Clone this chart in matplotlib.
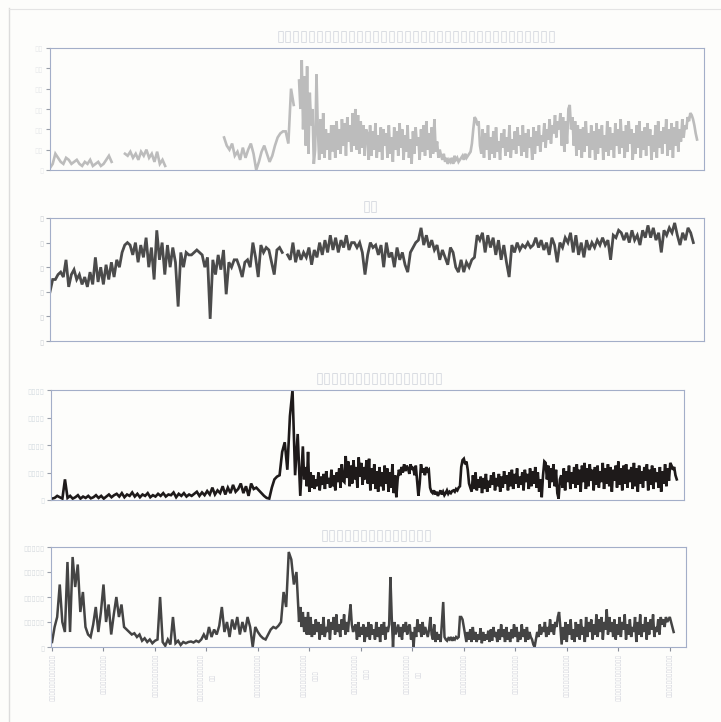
import numpy as np
import matplotlib
matplotlib.use("Agg")
import matplotlib.pyplot as plt
from matplotlib.lines import Line2D

nan = np.nan
B = "\u25af"

# ---------------- data ----------------
titles = [B * 35, B * 2, B * 16, B * 14]

# panel 1: early part (rows 0-460, every 5th row) and later dense part (rows 465-1208)
p1_early = [1,3,8,6,4,3,6,5,3,4,5,3,2,4,3,5,2,3,4,2,3,5,7,4,
            nan,nan,nan,nan,
            8,7,9,6,8,5,9,7,10,6,8,4,9,3,5,2,
            nan,nan,nan,nan,nan,nan,nan,nan,nan,nan,nan,nan,nan,nan,nan,nan,nan,nan,nan,nan,nan,
            16,12,10,13,7,9,5,11,6,10,13,8,0,4,9,12,8,4,7,12,16,18,19,19,13,
            40,32,nan]
p1_late = [44,30,54,20,46,12,51,8,38,22,30,3,10,47,20,
           5,25,8,28,6,20,10,18,5,22,9,
           22,6,24,10,20,8,25,12,23,7,26,14,22,9,28,12,30,10,27,8,24,11,22,7,20,
           18,5,22,7,19,10,23,6,17,9,21,5,20,12,18,6,22,8,16,4,21,10,19,7,23,11,20,5,17,9,
           22,6,15,3,19,8,21,12,16,5,20,9,22,7,24,10,18,6,21,8,25,9,14,6,
           10,7,5,8,4,6,3,5,4,6,3,7,5,6,4,5,6,7,5,8,6,7,8,9,
           13,20,26,25,22,24,12,
           8,20,6,18,10,22,5,16,8,19,6,21,9,14,5,18,11,20,7,16,9,22,6,15,10,19,8,21,12,17,
           7,22,9,18,6,20,11,16,5,21,8,19,12,22,9,17,14,23,11,20,15,25,13,22,18,27,16,24,20,28,
           12,26,9,24,13,
           30,32,20,26,12,24,7,22,10,20,6,21,9,24,12,18,6,22,10,19,5,23,8,20,11,22,5,17,9,24,
           7,21,10,18,6,23,12,20,8,25,11,19,6,22,9,24,13,20,5,18,8,22,11,24,6,19,10,21,7,23,
           12,20,5,17,9,22,6,24,11,19,8,21,13,25,7,20,10,23,6,21,12,24,9,20,14,25,16,22,20,26,
           24,28,27,25,22,18,15]

# panel 2: rows 0-1208, every 5th row
p2_vals = [2.0,2.5,2.5,2.7,2.8,2.6,3.3,2.2,2.7,2.9,2.5,2.7,2.3,2.6,2.2,2.8,2.3,3.4,2.4,3.0,
           2.3,3.1,2.5,3.2,2.6,3.3,3.0,3.6,3.9,4.0,3.9,3.5,4.0,3.2,3.9,3.4,4.2,3.0,3.8,2.5,
           4.5,3.3,4.0,2.7,3.9,3.0,3.8,3.2,1.4,3.6,3.0,3.6,3.5,3.5,3.6,3.7,3.6,3.5,3.0,3.4,
           0.9,3.3,2.7,3.5,2.9,3.7,1.9,3.2,3.0,3.3,3.3,3.0,2.6,3.2,3.3,3.0,4.0,3.4,2.6,3.9,
           3.6,3.8,3.7,3.2,2.7,3.7,3.8,3.6,nan,3.5,3.3,4.0,3.2,3.7,3.3,3.6,3.4,3.8,3.1,3.7,
           3.4,4.0,3.5,4.1,3.6,4.3,3.7,4.2,3.6,4.1,3.8,4.3,3.7,4.0,4.0,3.8,4.0,3.6,2.7,3.5,
           4.0,3.8,3.9,3.5,3.9,3.0,4.0,3.4,3.6,3.0,3.8,3.3,3.6,3.1,2.8,3.6,3.8,4.0,4.1,4.6,
           3.9,4.3,3.8,4.1,3.7,3.9,3.3,3.7,3.4,3.1,3.8,3.6,3.0,2.8,3.3,2.8,3.2,3.0,3.3,3.4,
           4.3,4.1,4.4,3.6,4.3,3.8,4.2,3.5,4.1,3.3,3.9,3.2,2.6,3.9,3.6,4.0,3.7,3.9,3.8,4.0,
           3.8,3.9,4.2,3.8,4.1,3.7,4.0,3.5,4.2,3.9,3.2,4.0,3.8,4.2,4.0,4.4,3.6,4.3,3.5,4.0,
           3.4,4.1,3.7,4.0,3.8,4.1,3.9,4.2,3.9,4.1,3.3,4.3,4.2,4.5,4.4,4.1,4.4,4.0,4.5,4.1,
           4.3,3.9,4.5,4.2,4.7,4.2,4.6,4.1,4.4,3.6,4.5,4.3,4.6,4.4,4.8,4.3,3.9,4.4,4.1,4.6,
           4.4,4.0]

# panel 3: early part (rows 0-480, every 5th row) and later dense part (rows 485-1208)
p3_early = [100,150,300,200,100,1500,150,
            300,100,200,350,100,250,150,300,120,200,350,150,300,100,250,400,200,350,
            450,250,500,200,400,300,550,250,450,200,400,300,500,200,350,250,450,300,500,250,
            400,350,550,200,450,300,500,250,400,300,450,
            600,300,550,350,650,400,900,400,700,500,1000,
            400,900,500,1100,600,800,1200,500,1000,300,1200,800,
            900,700,500,300,150,100,
            900,1500,1700,1800,
            3500,4200,2200,6100,8000,1800,4800,300]
p3_late = [3900,1500,2400,1000,3500,600,2000,900,
           1800,800,1500,1000,2000,700,1700,1100,1900,800,2100,1200,1600,900,2200,1000,1800,700,
           2000,1300,2300,900,2600,1400,
           1300,3200,1600,2800,1000,2500,1200,2900,1500,2400,900,3100,1700,2700,1100,2400,1500,
           2900,1200,3000,
           700,2300,1200,2600,800,2100,600,2400,1000,2000,700,2500,1200,2300,600,2000,900,2600,
           500,1800,200,
           1500,2200,1800,2400,2000,2600,2100,2500,2300,1900,2600,2200,2400,1800,2500,1400,300,
           1200,2600,2000,2300,1800,2400,2100,2200,
           900,600,500,700,400,600,300,500,700,400,600,350,500,700,450,600,500,650,700,600,800,
           700,900,1000,
           2400,2900,3000,2600,2800,2200,1200,900,
           600,1800,800,2000,700,1500,900,1700,500,1600,800,1900,600,1400,900,1800,1100,2000,700,
           1600,1000,1900,600,1700,900,2100,1200,1800,700,2000,1000,2200,800,1900,1200,2300,900,
           1700,1100,2000,700,2200,1300,1900,800,2300,1000,2100,1200,2400,900,2000,600,1500,200,
           1800,2800,
           2700,1500,2500,900,2300,1300,2600,1000,2200,500,100,1500,1800,900,2300,700,2100,1300,
           2500,800,2000,1200,2400,900,2600,1100,2200,600,2500,1300,2700,800,2300,1000,2600,1400,
           2200,700,2400,1100,2500,900,2100,1300,2700,800,2300,1200,2600,1000,2400,600,2200,1400,
           2500,900,2800,1100,2300,700,2500,1200,2600,900,2200,1300,2400,800,2700,1000,2300,600,
           2500,1200,2100,900,2400,1400,2600,700,2200,1100,2500,800,2300,1300,2000,900,2400,600,
           2100,1200,2600,1000,2300,1400,2700,2500,2200,2400,1800,1500]

# panel 4: early part (rows 0-475, every 5th row) and later dense part (rows 480-1208)
p4_early = [2000,8000,12000,25000,10000,6000,34000,6000,36000,24000,33000,14000,22000,8000,5000,4000,
            9000,16000,6000,14000,25000,10000,17000,5000,13000,20000,12000,17000,
            8000,7000,6000,5000,5500,4000,5000,
            2500,3500,2000,3000,1500,2500,3000,
            20000,
            2000,500,3000,1000,12000,1500,2500,800,2000,
            1500,2000,2200,1800,2500,2000,3000,
            5000,3000,8000,4000,7000,5000,8500,16000,
            6000,10000,4000,11000,7000,12000,5000,10000,6000,12000,8000,0,
            8000,6000,4500,3500,3000,5000,7000,8000,7500,8500,
            10000,22000,16000,38000,35000,25000,30000]
p4_late = [10000,16000,8000,14000,6000,12000,5000,14000,5000,
           12000,4000,9000,5000,11000,6000,10000,3000,9000,5000,12000,4000,8000,6000,11000,3000,
           10000,7000,12000,5000,13000,6000,9000,4000,11000,7000,13000,5000,10000,6000,12000,17000,
           9000,6000,8000,
           9000,3000,10000,4000,8000,5000,9000,2000,8000,4000,10000,3000,9000,5000,7000,3000,10000,
           4000,8000,2000,9000,5000,10000,3000,8000,6000,9000,28000,12000,0,
           10000,5000,7000,9000,4000,8000,3000,9000,6000,10000,5000,8000,9000,3000,6000,0,8000,
           4000,11000,6000,9000,4000,10000,5000,8000,6000,4000,7000,12000,5000,3000,9000,2000,6000,
           3000,5000,2000,10000,18000,
           4000,3000,2500,3500,3000,4000,2500,3500,3000,4000,3500,4000,12000,
           12000,11000,8000,5000,2000,6000,3000,7000,2000,8000,3000,6000,2000,5000,3000,7500,1500,
           6000,2500,5000,3000,6500,2000,7000,2500,8000,4000,6000,2000,7000,3000,9000,4000,7000,
           2000,8000,3000,6000,2000,7000,3500,9000,4000,8000,2000,6000,3000,9000,4000,7000,2000,
           8000,3000,6000,4000,3000,1000,
           0,3000,6000,4000,9000,5000,8000,6000,10000,4000,8000,5000,11000,6000,9000,5000,10000,
           8000,12000,14000,8000,
           1000,8000,3000,10000,2000,9000,5000,11000,3000,7000,2000,10000,4000,9000,3000,11000,
           5000,8000,2000,12000,4000,10000,6000,11000,3000,9000,5000,13000,4000,11000,6000,12000,
           3000,10000,7000,15000,5000,12000,6000,10000,4000,11000,3000,9000,5000,12000,4000,10000,
           7000,13000,3000,9000,5000,11000,4000,8000,6000,12000,2000,10000,5000,13000,4000,9000,
           6000,12000,3000,10000,5000,11000,7000,13000,4000,8000,6000,11000,5000,12000,9000,11000,
           8000,12000,10000,11000,12000,10000,8000,6000]

last_row = 1208
x_ticks = list(range(0, 1201, 100))
x_ticklabels = [B * 13, B * 11, B * 12, B * 13 + "\n" + B * 2, B * 12,
                B * 12 + "\n" + B * 3, B * 11 + "\n" + B * 3, B * 11 + "\n" + B * 2,
                B * 11, B * 11, B * 12, B * 13, B * 12]

y1_ticks = [0, 10, 20, 30, 40, 50, 60]
y1_labels = [B] + [B * 2] * 6
y2_ticks = [0, 1, 2, 3, 4, 5]
y2_labels = [B] * 6
y3_ticks = [0, 2000, 4000, 6000, 8000]
y3_labels = [B] + [B * 4] * 4
y4_ticks = [0, 10000, 20000, 30000, 40000]
y4_labels = [B] + [B * 5] * 4


def two_part(early, late, split_early, split_late):
    x = np.concatenate([np.linspace(0, split_early, len(early)),
                        np.linspace(split_late, last_row, len(late))])
    y = np.array(list(early) + list(late), dtype=float)
    return x, y


s1 = two_part(p1_early, p1_late, 460, 465)
s2 = (np.linspace(0, last_row, len(p2_vals)), np.array(p2_vals, dtype=float))
s3 = two_part(p3_early, p3_late, 480, 485)
s4 = two_part(p4_early, p4_late, 475, 480)

# ---------------- figure ----------------
W, H = 721, 722
bg = "#fdfdfb"
fig = plt.figure(figsize=(W / 100, H / 100), dpi=100, facecolor=bg)


def rect(l, t, r, b):
    return [l / W, 1 - b / H, (r - l) / W, (b - t) / H]


panels = [
    dict(s=s1, pos=rect(50, 48, 704, 170), xlim=(0, 1221), ylim=(0, 60), lw=1.9,
         yt=y1_ticks, yl=y1_labels, color="#bcbcbc", lab="#e6e8ea", title=titles[0], tx=0.56),
    dict(s=s2, pos=rect(50, 218, 704, 341), xlim=(0, 1228), ylim=(0, 5), lw=2.0,
         yt=y2_ticks, yl=y2_labels, color="#4b4b4b", lab="#cdd0d4", title=titles[1], tx=0.49),
    dict(s=s3, pos=rect(51, 390, 684, 500), xlim=(-2, 1222), ylim=(0, 8000), lw=1.9,
         yt=y3_ticks, yl=y3_labels, color="#1e1a1a", lab="#d6dde2", title=titles[2], tx=0.52),
    dict(s=s4, pos=rect(51, 547, 686, 647), xlim=(-2, 1232), ylim=(0, 40000), lw=1.8,
         yt=y4_ticks, yl=y4_labels, color="#444444", lab="#d8dce0", title=titles[3], tx=0.513),
]

spine_col = "#a3aec8"
for i, p in enumerate(panels):
    ax = fig.add_axes(p["pos"])
    ax.set_facecolor(bg)
    x, y = p["s"]
    ax.plot(x, y, color=p["color"], lw=p["lw"], solid_joinstyle="miter")
    ax.set_xlim(*p["xlim"])
    ax.set_ylim(*p["ylim"])
    ax.set_yticks(p["yt"])
    ax.set_yticklabels(p["yl"], fontsize=5.5, color=p["lab"])
    ax.tick_params(axis="y", length=3, width=0.8, color="#9aa0aa", pad=2)
    for s in ax.spines.values():
        s.set_color(spine_col)
        s.set_linewidth(0.8)
    ax.set_title(p["title"], fontsize=10.5, color="#d3d7de", pad=5, x=p["tx"])
    if i == 3:
        ax.set_xticks(x_ticks)
        ax.set_xticklabels(x_ticklabels, rotation=90, fontsize=4.8,
                           color="#d2d4dc", multialignment="center", linespacing=2.2)
        ax.tick_params(axis="x", length=3, width=0.8, color="#8a8f99", pad=2)
    else:
        ax.set_xticks([])

# faint page edges from the scan
fig.add_artist(Line2D([9 / W, 9 / W], [0, 1 - 8 / H], color="#dcdcdc", lw=1.0))
fig.add_artist(Line2D([9 / W, 1], [1 - 9 / H, 1 - 9 / H], color="#e4e4e4", lw=0.8))

fig.savefig("out.png", dpi=100, facecolor=fig.get_facecolor())
